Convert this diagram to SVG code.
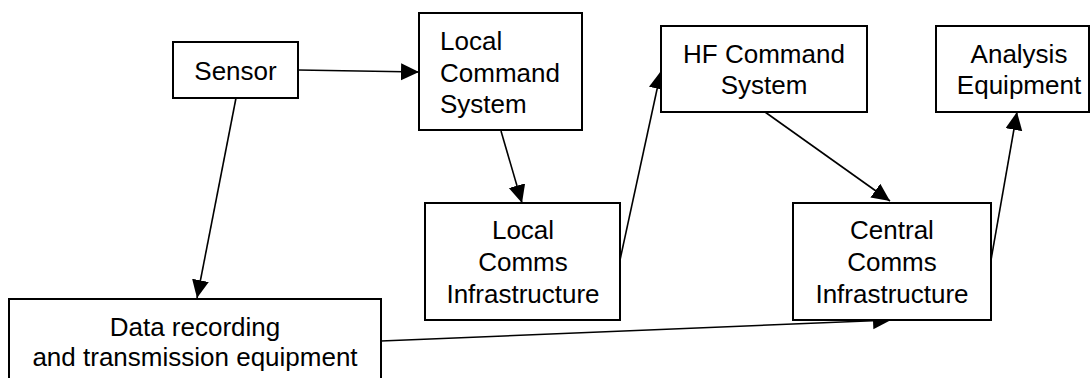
<svg xmlns="http://www.w3.org/2000/svg" width="1090" height="378" viewBox="0 0 1090 378">
<style>
.box{fill:#fff;stroke:#000;stroke-width:2}
.t{font-family:"Liberation Sans",Arial,sans-serif;font-size:26px;fill:#000}
.c{text-anchor:middle}
.ln{stroke:#000;stroke-width:1.6;fill:none;marker-end:url(#ah)}
</style>
<defs>
<marker id="ah" markerUnits="userSpaceOnUse" markerWidth="20" markerHeight="18" refX="18" refY="8.5" orient="auto">
<path d="M0,0 L18,8.5 L0,17 z" fill="#000"/>
</marker>
</defs>
<rect width="1090" height="378" fill="#fff"/>
<g id="connectors">
<line class="ln" x1="298" y1="70" x2="419" y2="72"/>
<line class="ln" x1="236" y1="98" x2="197" y2="298"/>
<line class="ln" x1="501" y1="131" x2="522" y2="203"/>
<line class="ln" x1="620" y1="260" x2="661" y2="71"/>
<line class="ln" x1="765" y1="112" x2="890" y2="201"/>
<line class="ln" x1="991" y1="260" x2="1017" y2="112"/>
<line class="ln" x1="381" y1="341" x2="891" y2="320"/>
</g>
<g id="sensor">
<rect class="box" x="173" y="42" width="125" height="56"/>
<text class="t c" x="235.5" y="80">Sensor</text>
</g>
<g id="local-command">
<rect class="box" x="419" y="13" width="163" height="117"/>
<text class="t" x="440" y="50">Local</text>
<text class="t" x="440" y="82">Command</text>
<text class="t" x="440" y="113">System</text>
</g>
<g id="hf-command">
<rect class="box" x="661" y="26" width="206" height="86"/>
<text class="t c" x="764" y="63">HF Command</text>
<text class="t c" x="764" y="94">System</text>
</g>
<g id="analysis">
<rect class="box" x="936" y="26" width="153" height="86"/>
<text class="t c" x="1019" y="63">Analysis</text>
<text class="t c" x="1019" y="94">Equipment</text>
</g>
<g id="local-comms">
<rect class="box" x="425" y="203" width="195" height="117"/>
<text class="t c" x="523" y="239">Local</text>
<text class="t c" x="523" y="271">Comms</text>
<text class="t c" x="523" y="303">Infrastructure</text>
</g>
<g id="central-comms">
<rect class="box" x="793" y="203" width="198" height="117"/>
<text class="t c" x="892" y="239">Central</text>
<text class="t c" x="892" y="271">Comms</text>
<text class="t c" x="892" y="303">Infrastructure</text>
</g>
<g id="data-recording">
<rect class="box" x="9" y="299" width="372" height="90"/>
<text class="t c" x="195" y="336">Data recording</text>
<text class="t c" x="195" y="366">and transmission equipment</text>
</g>
</svg>
